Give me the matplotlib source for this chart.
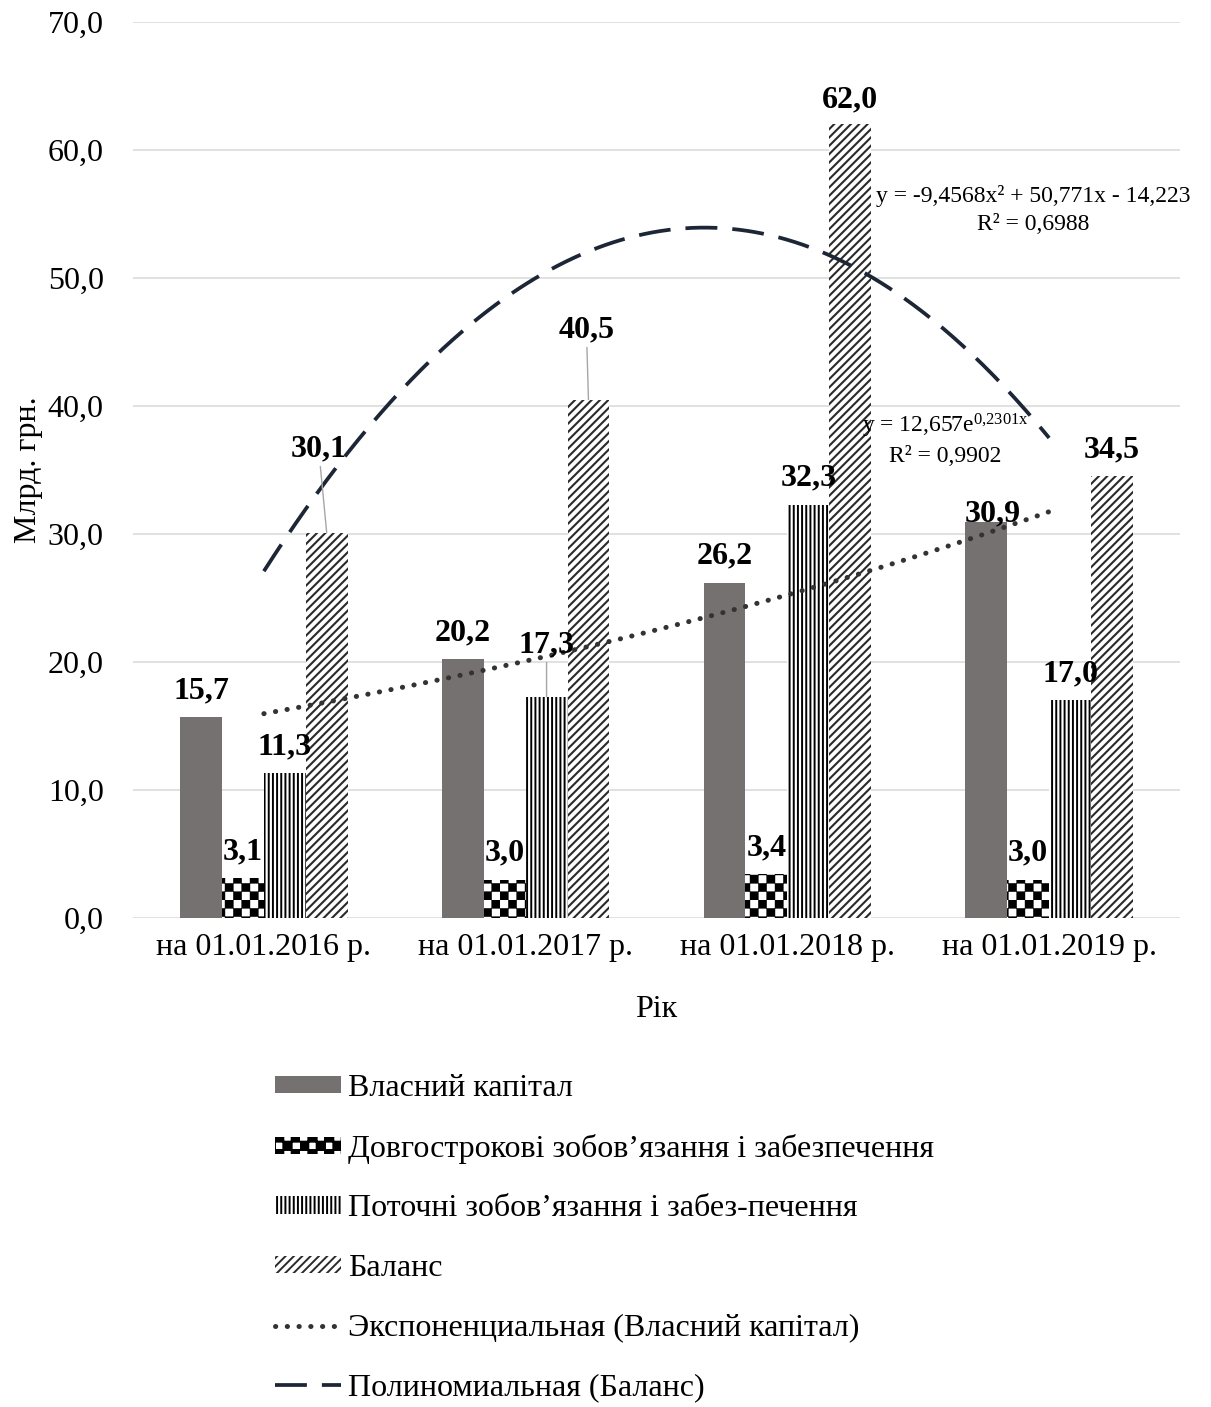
import numpy as np
import matplotlib
matplotlib.use('Agg')
import matplotlib.pyplot as plt
import matplotlib.hatch as mhatch
from matplotlib.path import Path

# ---------------- data ----------------
categories = ['на 01.01.2016 р.', 'на 01.01.2017 р.', 'на 01.01.2018 р.', 'на 01.01.2019 р.']
equity = [15.7, 20.2, 26.2, 30.9]
long_term = [3.1, 3.0, 3.4, 3.0]
current = [11.3, 17.3, 32.3, 17.0]
balance = [30.1, 40.5, 62.0, 34.5]
series_names = ['Власний капітал',
                'Довгострокові зобов’язання і забезпечення',
                'Поточні зобов’язання і забез-печення',
                'Баланс']
trend_names = ['Экспоненциальная (Власний капітал)', 'Полиномиальная (Баланс)']
yticks = [0, 10, 20, 30, 40, 50, 60, 70]
y_label = 'Млрд. грн.'
x_label = 'Рік'
poly_eq = ['y = -9,4568x² + 50,771x - 14,223', 'R² = 0,6988']
exp_eq = ['y = 12,657e$^{\\mathrm{0{,}2301x}}$', 'R² = 0,9902']

# ---------------- checkerboard hatch ----------------
class CheckerHatch(mhatch.HatchPatternBase):
    def __init__(self, hatch, density):
        self.n = 12 if '*' in hatch else 0
        self.num_vertices = (self.n * self.n // 2) * 5

    def set_vertices_and_codes(self, vertices, codes):
        s = 1.0 / self.n
        k = 0
        for i in range(self.n):
            for j in range(self.n):
                if (i + j) % 2 == 0:
                    x0, y0 = i * s, j * s
                    vertices[k:k + 5] = [(x0, y0), (x0 + s, y0), (x0 + s, y0 + s),
                                         (x0, y0 + s), (x0, y0)]
                    codes[k:k + 5] = [Path.MOVETO, Path.LINETO, Path.LINETO,
                                      Path.LINETO, Path.CLOSEPOLY]
                    k += 5

mhatch._hatch_types = [t for t in mhatch._hatch_types if t is not mhatch.Stars] + [CheckerHatch]

# ---------------- style ----------------
plt.rcParams['font.family'] = ['Liberation Serif', 'DejaVu Serif']
plt.rcParams['mathtext.fontset'] = 'custom'
plt.rcParams['mathtext.rm'] = 'Liberation Serif'
plt.rcParams['mathtext.it'] = 'Liberation Serif:italic'
plt.rcParams['hatch.linewidth'] = 1.4

FS = 23
fig = plt.figure(figsize=(12.11, 14.07), dpi=100)
W, H = 1211, 1407
ax = fig.add_axes([133 / W, 1 - 918 / H, 1047 / W, 896 / H])

x = np.arange(len(categories))
w = 0.16

def set_hlw(bars, lw):
    for b in bars:
        if hasattr(b, 'set_hatch_linewidth'):
            b.set_hatch_linewidth(lw)

b1 = ax.bar(x - 1.5 * w, equity, w, color='#767171', linewidth=0, label=series_names[0], zorder=2)
b2 = ax.bar(x - 0.5 * w, long_term, w, facecolor='white', edgecolor='black', hatch='*',
            linewidth=0, label=series_names[1], zorder=2)
b3 = ax.bar(x + 0.5 * w, current, w, facecolor='white', edgecolor='black', hatch='||||',
            linewidth=0, label=series_names[2], zorder=2)
b4 = ax.bar(x + 1.5 * w, balance, w, facecolor='white', edgecolor='#2a2a2a', hatch='////',
            linewidth=0, label=series_names[3], zorder=2)
set_hlw(b2, 0.3)
set_hlw(b3, 1.4)
set_hlw(b4, 1.5)

# ---------------- trend lines (fitted from data) ----------------
xs = np.linspace(0, len(categories) - 1, 300)
t = np.arange(1, len(categories) + 1)
pc = np.polyfit(t, balance, 2)
poly_y = np.polyval(pc, xs + 1)
ec = np.polyfit(t, np.log(equity), 1)
exp_y = np.exp(ec[1]) * np.exp(ec[0] * (xs + 1))

l_exp, = ax.plot(xs, exp_y, color='#333333', lw=3.6, linestyle=(0, (0.05, 2.3)),
                 dash_capstyle='round', label=trend_names[0], zorder=3)
l_poly, = ax.plot(xs, poly_y, color='#1c2636', lw=2.7, linestyle=(0, (8.5, 4)),
                  dash_capstyle='butt', label=trend_names[1], zorder=3)

# ---------------- data labels ----------------
def fmt(v):
    return f'{v:.1f}'.replace('.', ',')

PX = 0.72  # points per pixel
special = {(3, 0): (-8, 76, True), (2, 1): (0, 44, True), (3, 1): (-2, 62, True),
           (0, 3): (6, 1, False), (3, 2): (0, 17, False)}
all_series = [equity, long_term, current, balance]
for si, vals in enumerate(all_series):
    for ci, v in enumerate(vals):
        xc = x[ci] + (si - 1.5) * w
        dx, dy, leader = special.get((si, ci), (0, 19, False))
        kw = {}
        if leader:
            kw['arrowprops'] = dict(arrowstyle='-', color='#a6a6a6', lw=1.0,
                                    shrinkA=0, shrinkB=0)
        ax.annotate(fmt(v), xy=(xc, v), xytext=(dx * PX, dy * PX),
                    textcoords='offset points', ha='center', va='baseline',
                    fontsize=FS, fontweight='bold', color='black', zorder=4, **kw)

# ---------------- equations ----------------
EQ = 17
ax.text(2.939, 55.94, poly_eq[0], ha='center', va='baseline', fontsize=EQ, zorder=4)
ax.text(2.939, 53.75, poly_eq[1], ha='center', va='baseline', fontsize=EQ, zorder=4)
ax.text(2.603, 37.9, exp_eq[0], ha='center', va='baseline', fontsize=EQ, zorder=4)
ax.text(2.603, 35.6, exp_eq[1], ha='center', va='baseline', fontsize=EQ, zorder=4)

# ---------------- axes ----------------
ax.set_xlim(-0.5, len(categories) - 0.5)
ax.set_ylim(0, 70)
ax.set_yticks(yticks)
ax.set_yticklabels([fmt(v) for v in yticks])
ax.set_xticks(x)
ax.set_xticklabels(categories)
ax.tick_params(axis='y', length=0, pad=21, labelsize=FS, colors='black')
ax.tick_params(axis='x', length=0, pad=11, labelsize=FS, colors='black')
ax.grid(axis='y', color='#d9d9d9', lw=1.1, zorder=0)
ax.set_axisbelow(True)
for s in ax.spines.values():
    s.set_visible(False)

ax.set_ylabel(y_label, fontsize=FS)
ax.yaxis.set_label_coords(-0.086, 0.5)
ax.set_xlabel(x_label, fontsize=FS)
ax.xaxis.set_label_coords(0.5, -0.086)

# ---------------- legend ----------------
handles = [b1, b2, b3, b4, l_exp, l_poly]
labels = series_names + trend_names
fig.legend(handles, labels, loc='upper left', bbox_to_anchor=(275 / W, 1 - 1074 / H),
           frameon=False, fontsize=FS, handlelength=2.08, handleheight=0.46,
           handletextpad=0.22, labelspacing=0.96, borderpad=0, borderaxespad=0)

fig.savefig('out.png', dpi=100)
